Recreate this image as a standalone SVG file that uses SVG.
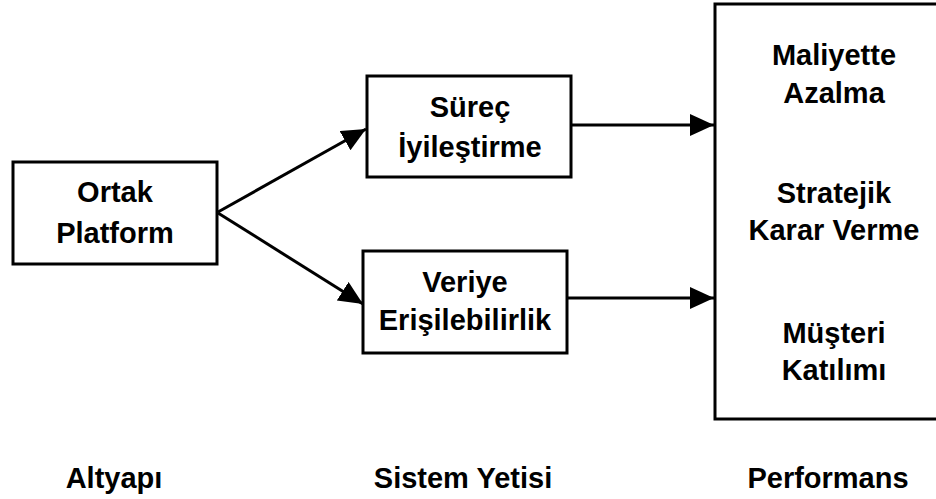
<svg xmlns="http://www.w3.org/2000/svg" width="936" height="499" viewBox="0 0 936 499">
  <style>
    .box { fill: #ffffff; stroke: #000000; stroke-width: 3; }
    .lbl { font-family: "Liberation Sans", Arial, sans-serif; font-weight: bold; font-size: 29px; fill: #000000; text-anchor: middle; }
    .edge { stroke: #000000; stroke-width: 3; fill: none; marker-end: url(#head); }
  </style>
  <defs>
    <marker id="head" markerUnits="userSpaceOnUse" markerWidth="26" markerHeight="24" refX="24" refY="11" orient="auto">
      <path d="M0,0 L24,11 L0,22 Z" fill="#000000"/>
    </marker>
  </defs>
  <rect width="936" height="499" fill="#ffffff"/>

  <g id="connectors">
    <line class="edge" x1="218" y1="212" x2="366" y2="129"/>
    <line class="edge" x1="218" y1="213" x2="363" y2="304"/>
    <line class="edge" x1="567" y1="125" x2="714" y2="125"/>
    <line class="edge" x1="564" y1="298" x2="714" y2="298"/>
  </g>

  <g id="ortak-platform">
    <rect class="box" x="13" y="162" width="204" height="102"/>
    <text class="lbl" x="115" y="202">Ortak</text>
    <text class="lbl" x="115" y="243">Platform</text>
  </g>

  <g id="surec-iyilestirme">
    <rect class="box" x="367" y="76" width="204" height="101"/>
    <text class="lbl" x="470" y="117">Süreç</text>
    <text class="lbl" x="470" y="157">İyileştirme</text>
  </g>

  <g id="veriye-erisilebilirlik">
    <rect class="box" x="363" y="251" width="204" height="102"/>
    <text class="lbl" x="465" y="292">Veriye</text>
    <text class="lbl" x="465" y="330">Erişilebilirlik</text>
  </g>

  <g id="performans-kutusu">
    <rect class="box" x="715" y="4" width="240" height="415"/>
    <text class="lbl" x="834" y="65">Maliyette</text>
    <text class="lbl" x="834" y="103">Azalma</text>
    <text class="lbl" x="834" y="203">Stratejik</text>
    <text class="lbl" x="834" y="240">Karar Verme</text>
    <text class="lbl" x="834" y="343">Müşteri</text>
    <text class="lbl" x="834" y="380">Katılımı</text>
  </g>

  <g id="katman-basliklari">
    <text class="lbl" x="114" y="488">Altyapı</text>
    <text class="lbl" x="463" y="488">Sistem Yetisi</text>
    <text class="lbl" x="828" y="488">Performans</text>
  </g>
</svg>
